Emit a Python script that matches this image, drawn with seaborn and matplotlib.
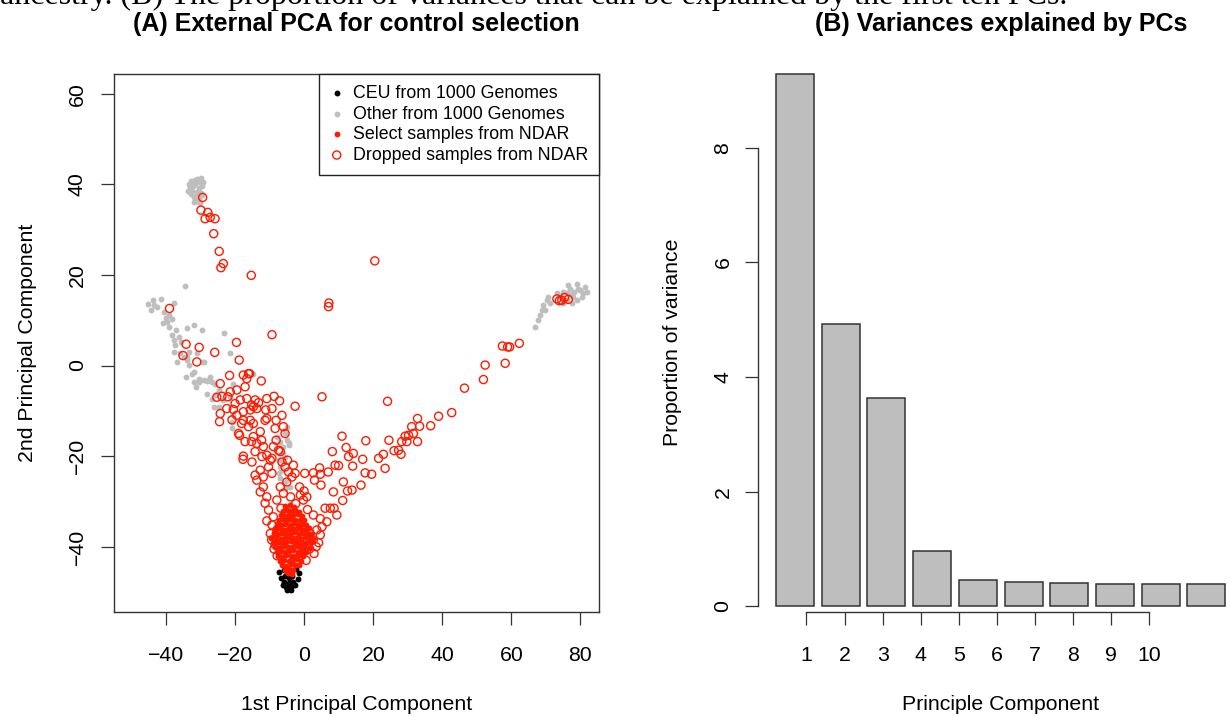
import matplotlib
matplotlib.use("Agg")
import matplotlib.pyplot as plt
import pandas as pd
import seaborn as sns

# ---- panel A: PCA scatter ----
# CEU from 1000 Genomes
ceu_pts = [(-4.5, -49.2), (-5.2, -48.8), (-3.8, -48.8), (-4.5, -48.0), (-5.8, -47.8),
           (-3.2, -47.8), (-6.8, -47.0), (-2.0, -47.2), (-4.5, -46.8), (-5.5, -46.5),
           (-3.5, -46.5), (-7.3, -45.5), (-1.5, -45.8), (-6.0, -45.2), (-2.5, -45.0),
           (-4.5, -45.5), (-5.0, -49.5), (-4.0, -49.6), (-6.3, -48.4), (-2.7, -48.5)]

# Other from 1000 Genomes
other_pts = [
    # top-left blob
    (-31.0, 41.2), (-30.2, 40.6), (-31.6, 40.1), (-32.3, 39.6), (-30.6, 39.1), (-31.2, 38.4),
    (-32.6, 38.6), (-33.2, 39.3), (-30.0, 38.0), (-31.0, 37.5), (-32.1, 37.1), (-30.6, 36.7),
    (-29.6, 37.6), (-31.8, 40.9), (-30.0, 41.4), (-33.5, 40.1), (-32.8, 37.8), (-29.8, 39.6),
    (-31.3, 36.3), (-30.3, 35.9), (-32.0, 36.2), (-33.8, 38.5), (-29.4, 40.5), (-32.9, 40.8),
    # left arm
    (-34.6, 17.5), (-44.0, 14.4), (-41.6, 14.6), (-37.8, 13.7), (-44.5, 12.2), (-42.6, 12.9),
    (-40.7, 11.9), (-39.2, 11.1), (-43.6, 13.3), (-45.2, 13.6), (-41.1, 9.3), (-39.2, 8.5),
    (-37.3, 7.8), (-38.3, 6.7), (-36.3, 6.3), (-35.8, 5.2), (-37.8, 5.6), (-39.7, 9.6),
    (-40.2, 10.5), (-38.5, 10.2), (-33.9, 8.2), (-32.0, 8.9), (-29.6, 7.8), (-23.3, 7.2),
    (-37.8, 3.0), (-36.8, 0.8), (-34.9, 1.9), (-33.9, 1.2), (-33.4, 3.0), (-29.1, 0.8),
    (-21.5, 2.8), (-37.5, 4.5), (-36.0, 2.7), (-34.1, 1.9), (-31.2, 2.7), (-29.7, 0.8),
    (-33.6, 0.1), (-32.1, -1.4), (-30.7, -3.6), (-29.2, -3.2), (-27.8, -3.2), (-34.4, -2.5),
    (-32.0, -3.6), (-30.5, -2.9), (-28.1, -3.4), (-26.7, -3.6), (-31.5, -4.7), (-32.5, -1.8),
    (-25.7, -6.5), (-26.2, -9.1), (-27.3, -2.5), (-25.9, -4.0), (-24.9, -5.4), (-28.3, -6.2),
    (-26.8, -7.3), (-23.5, -7.6), (-21.5, -6.9), (-21.0, -13.9), (-20.6, -11.0), (-24.9, -9.1),
    (-14.8, -1.8), (-20.6, -4.0), (-21.0, -12.4),
    # central band
    (-5.1, -13.5), (-5.6, -15.0), (-5.1, -16.5), (-6.1, -17.9), (-6.5, -19.4), (-6.5, -20.9),
    (-7.0, -22.4), (-7.5, -23.8), (-7.0, -24.9), (-4.6, -17.2), (-5.6, -20.1), (-6.6, -23.1),
    (-5.1, -25.3), (-7.0, -16.8), (-4.6, -17.6), (-7.5, -20.9), (-6.1, -19.4), (-6.0, -26.0),
    (-5.5, -27.2), (-8.0, -15.7), (-4.1, -26.8),
    # right blob
    (79.0, 18.0), (80.9, 15.9), (77.0, 17.0), (75.1, 16.3), (79.9, 16.6), (78.0, 15.2),
    (76.0, 14.4), (75.1, 13.7), (81.8, 16.3), (74.1, 15.2), (79.0, 14.4), (80.4, 15.2),
    (77.5, 13.7), (70.3, 14.4), (69.3, 13.3), (68.8, 12.2), (68.3, 11.1), (67.8, 10.0),
    (66.9, 8.6), (69.8, 12.2), (71.2, 13.7), (70.7, 15.2), (73.2, 15.9), (81.4, 17.4),
    (79.4, 17.0), (76.5, 17.8), (78.2, 16.2), (77.2, 15.6), (76.2, 16.0)]

# Select samples from NDAR (the solid red blob)
select_pts = [
    (-5.5, -31.0), (-4.3, -30.8), (-3.0, -31.2),
    (-6.3, -32.1), (-5.0, -31.9), (-3.8, -32.2), (-2.6, -31.8), (-1.6, -32.3),
    (-6.9, -33.0), (-5.6, -33.2), (-4.4, -32.9), (-3.2, -33.1), (-2.0, -32.8), (-0.8, -33.2),
    (-7.4, -34.1), (-6.2, -33.9), (-5.0, -34.2), (-3.8, -33.8), (-2.6, -34.1), (-1.4, -34.0),
    (-0.2, -34.2),
    (-7.9, -35.0), (-6.7, -35.2), (-5.5, -34.9), (-4.3, -35.1), (-3.1, -34.8), (-1.9, -35.2),
    (-0.7, -35.0), (0.5, -35.1),
    (-8.3, -36.1), (-7.1, -35.9), (-5.9, -36.2), (-4.7, -36.0), (-3.5, -35.8), (-2.3, -36.1),
    (-1.1, -36.0), (0.1, -36.2), (1.2, -35.9),
    (-8.8, -37.0), (-7.6, -37.2), (-6.4, -36.9), (-5.2, -37.1), (-4.0, -37.0), (-2.8, -36.8),
    (-1.6, -37.2), (-0.4, -37.0), (0.8, -36.9), (1.9, -37.1),
    (-9.6, -38.1), (-8.1, -37.9), (-6.9, -38.2), (-5.7, -38.0), (-4.5, -37.8), (-3.3, -38.1),
    (-2.1, -38.0), (-0.9, -38.2), (0.3, -37.9), (1.5, -38.0), (2.5, -38.2),
    (-8.8, -39.1), (-7.6, -38.9), (-6.4, -39.2), (-5.2, -39.0), (-4.0, -38.8), (-2.8, -39.1),
    (-1.6, -39.0), (-0.4, -39.2), (0.8, -38.9), (1.9, -39.0),
    (-8.4, -40.0), (-7.2, -40.2), (-6.0, -39.9), (-4.8, -40.1), (-3.6, -40.0), (-2.4, -39.8),
    (-1.2, -40.1), (0.0, -40.0), (1.2, -40.2),
    (-8.0, -41.1), (-6.8, -40.9), (-5.6, -41.2), (-4.4, -41.0), (-3.2, -40.8), (-2.0, -41.1),
    (-0.8, -41.0), (0.4, -41.2),
    (-7.6, -42.0), (-6.4, -42.2), (-5.2, -41.9), (-4.0, -42.1), (-2.8, -42.0), (-1.6, -41.8),
    (-0.4, -42.1),
    (-7.0, -43.1), (-5.8, -42.9), (-4.6, -43.2), (-3.4, -43.0), (-2.2, -42.8), (-1.0, -43.1),
    (-6.4, -44.0), (-5.2, -44.2), (-4.0, -43.9), (-2.8, -44.1), (-1.6, -44.0),
    (-5.6, -45.1), (-4.4, -44.9), (-3.2, -45.2),
    (-4.8, -45.9), (-3.6, -46.1)]

# Dropped samples from NDAR (open circles)
dropped_pts = [
    # upper-left arm and isolated ones
    (-29.5, 37.1), (-30.0, 34.3), (-28.0, 33.8), (-28.8, 32.4), (-27.3, 32.7), (-25.9, 32.4),
    (-26.3, 29.1), (-24.7, 25.2), (-23.5, 22.5), (-24.2, 21.6), (-15.4, 19.9),
    (20.4, 23.1), (7.1, 13.8), (7.0, 13.0), (-39.1, 12.6), (-9.4, 6.8),
    # right blob and right arm
    (73.2, 14.7), (74.6, 14.4), (75.4, 15.0), (76.5, 14.6), (73.9, 14.3),
    (57.4, 4.3), (59.5, 4.1), (58.9, 4.1), (62.3, 4.9), (58.2, 0.5), (52.4, 0.1),
    (51.9, -3.1), (46.4, -5.0), (42.7, -10.4), (38.9, -11.2), (36.6, -13.3),
    # left side of the V
    (-34.3, 4.7), (-30.5, 4.0), (-26.0, 2.9), (-19.7, 5.1), (-35.2, 2.2), (-31.2, 0.8),
    (-18.9, 1.2), (-21.7, -2.2), (-24.4, -4.0), (-17.7, -2.1), (-16.7, -2.9), (-16.2, -1.8),
    (-12.5, -3.4), (-17.2, -4.7), (-15.9, -1.8),
    (-25.4, -7.0), (-23.9, -6.8), (-21.5, -5.8), (-19.6, -5.4), (-22.2, -6.9), (-18.6, -7.6),
    (-16.7, -7.3), (-14.3, -7.6), (-14.8, -9.1), (-10.9, -7.3), (-8.8, -6.8), (-7.2, -7.8),
    (-2.7, -9.0), (5.1, -6.9), (-20.1, -8.4), (-13.3, -8.2), (-15.3, -8.7),
    (-22.5, -9.5), (-24.4, -10.6), (-24.6, -12.4), (-20.6, -9.7), (-19.6, -11.0), (-17.7, -10.2),
    (-15.7, -9.8), (-13.8, -9.5), (-11.2, -9.8), (-9.4, -9.5), (-10.9, -11.7), (-8.2, -12.1),
    (-6.5, -11.0), (-21.0, -12.0), (-17.7, -12.1), (-16.2, -13.5), (-14.8, -12.8), (-12.8, -14.6),
    (-8.5, -13.9), (-6.1, -13.5), (-18.8, -15.4), (-17.2, -16.8), (-14.8, -15.7), (-13.8, -17.2),
    (-5.6, -15.0), (-8.2, -16.5), (-9.0, -17.9), (-7.0, -19.0), (-11.9, -17.9), (-10.9, -19.8),
    (-14.3, -19.0), (-17.7, -20.0), (-17.8, -20.7), (-15.2, -21.3), (-12.3, -20.1), (-9.9, -20.9),
    (-10.4, -22.4), (-12.8, -23.1), (-14.3, -24.2), (-11.9, -24.6), (-9.4, -23.8), (-6.5, -21.3),
    (-4.9, -20.9), (-5.6, -22.4), (-3.2, -22.0), (-4.6, -23.5), (-3.6, -24.6), (-11.4, -12.1),
    (-15.7, -12.1), (-18.2, -12.8), (-19.1, -15.0), (-15.3, -16.8), (-12.4, -16.5), (-9.4, -20.5),
    (-7.5, -18.7), (-2.7, -23.8),
    # right side of the V
    (0.1, -23.8), (2.6, -23.7), (4.4, -22.6), (4.6, -24.0), (2.9, -25.3), (4.8, -26.4),
    (6.9, -23.5), (8.1, -19.0), (8.9, -22.0), (9.9, -22.1), (10.9, -15.6), (11.3, -25.7),
    (12.1, -18.1), (12.8, -20.1), (14.2, -19.4), (14.0, -22.2), (16.9, -20.7), (17.8, -16.6),
    (17.6, -23.7), (19.5, -24.0), (16.4, -26.4), (12.5, -27.7), (13.8, -27.5), (8.4, -27.9),
    (11.1, -29.8), (21.5, -20.5), (22.9, -19.6), (23.4, -22.7), (24.1, -7.9), (24.5, -16.5),
    (26.0, -18.8), (27.3, -18.7), (28.0, -19.6), (28.2, -16.8), (29.2, -15.6), (30.2, -15.4),
    (29.7, -16.8), (31.1, -13.5), (31.6, -15.0), (32.8, -11.7), (33.4, -13.4), (32.8, -16.8),
    (8.6, -31.5), (9.4, -33.0),
    # around the blob
    (-13.8, -25.3), (-11.9, -26.8), (-12.8, -27.9), (-10.9, -29.0), (-11.4, -30.4), (-10.4, -31.9),
    (-10.9, -34.3), (-9.0, -33.4), (-9.4, -35.2), (-8.0, -36.3), (-7.0, -26.8), (-6.1, -28.2),
    (-8.0, -29.7), (-5.1, -25.7), (-9.9, -37.1),
    (-1.4, -26.8), (-0.1, -27.7), (-1.2, -28.6), (0.7, -29.0), (-0.3, -29.7), (0.9, -31.8),
    (2.6, -33.0), (4.6, -33.8), (6.0, -31.5), (7.5, -31.5), (6.5, -34.5), (5.1, -35.6),
    (3.6, -36.3), (4.6, -37.4), (4.1, -39.1), (2.6, -38.5), (1.7, -37.1), (-2.5, -30.5),
    (-6.8, -31.5), (-4.0, -29.0), (-9.5, -38.5), (-8.8, -40.5), (-7.9, -42.0), (1.5, -40.5),
    (2.8, -41.5), (0.5, -43.0), (-8.5, -39.5), (3.4, -40.0)]

pca_xticks = [-40, -20, 0, 20, 40, 60, 80]
pca_yticks = [-40, -20, 0, 20, 40, 60]

# ---- panel B: variance explained ----
pc_labels = ["1", "2", "3", "4", "5", "6", "7", "8", "9", "10"]
pc_variance = [9.29, 4.93, 3.63, 0.97, 0.45, 0.42, 0.40, 0.39, 0.39, 0.38]
var_yticks = [0, 2, 4, 6, 8]

caption = "ancestry. (B) The proportion of variances that can be explained by the first ten PCs."


def to_df(pts):
    return pd.DataFrame(pts, columns=["pc1", "pc2"])


sns.set_style("ticks")
plt.rcParams['font.family'] = ['Liberation Sans', 'DejaVu Sans']
plt.rcParams['axes.edgecolor'] = '#333333'
plt.rcParams['axes.linewidth'] = 1.0
plt.rcParams['text.color'] = 'black'
plt.rcParams['axes.labelcolor'] = 'black'
plt.rcParams['axes.titlecolor'] = 'black'

W, H = 1231, 717
fig = plt.figure(figsize=(W / 100, H / 100), dpi=100)
ax1 = fig.add_axes([114 / W, (H - 611.5) / H, 485 / W, 537.5 / H])
ax2 = fig.add_axes([758.3 / W, (H - 611.5) / H, 485 / W, 537.5 / H])

# Panel A
sns.scatterplot(data=to_df(other_pts), x="pc1", y="pc2", ax=ax1, color="#BEBEBE",
                s=18, linewidth=0, label="Other from 1000 Genomes")
sns.scatterplot(data=to_df(ceu_pts), x="pc1", y="pc2", ax=ax1, color="black",
                s=18, linewidth=0, label="CEU from 1000 Genomes")
sns.scatterplot(data=to_df(dropped_pts), x="pc1", y="pc2", ax=ax1, marker="o",
                facecolors="none", edgecolors="#FF1A00", s=34, linewidth=1.0,
                label="Dropped samples from NDAR")
sns.scatterplot(data=to_df(select_pts), x="pc1", y="pc2", ax=ax1, color="#FF1A00",
                s=18, linewidth=0, label="Select samples from NDAR")

ax1.set_xlim(-55.2, 85.4)
ax1.set_ylim(-54.3, 64.35)
ax1.set_xticks(pca_xticks)
ax1.set_yticks(pca_yticks)
ax1.set_xlabel("1st Principal Component", fontsize=15.3)
ax1.set_ylabel("2nd Principal Component", fontsize=15.3)
ax1.set_title("(A) External PCA for control selection", fontsize=18,
              fontweight="bold", pad=31)

handles, labels = ax1.get_legend_handles_labels()
order = ["CEU from 1000 Genomes", "Other from 1000 Genomes",
         "Select samples from NDAR", "Dropped samples from NDAR"]
hmap = dict(zip(labels, handles))
leg = ax1.legend([hmap[k] for k in order], order, loc="upper right",
                 borderaxespad=0, fancybox=False, framealpha=1, edgecolor="#222222",
                 fontsize=12.8, handlelength=0.7, handletextpad=0.55,
                 labelspacing=0.2, borderpad=0.62)
leg.get_frame().set_linewidth(1.0)

# Panel B
sns.barplot(x=pc_labels, y=pc_variance, order=pc_labels, ax=ax2, color="#BEBEBE",
            saturation=1, edgecolor="#333333", linewidth=1.1, width=1 / 1.2,
            errorbar=None)
for p in ax2.patches:
    p.set_clip_on(False)

# R barplot layout: bar k sits at 0.7 + 1.2*(k-1); axis ticks at 1..10
tick_pos = [(int(k) - 0.7) / 1.2 for k in pc_labels]
ax2.set_xlim((-0.265 - 0.7) / 1.2, (12.47 - 0.7) / 1.2)
ax2.set_ylim(-0.093, 9.29)
ax2.set_xticks(tick_pos)
ax2.set_xticklabels(pc_labels)
ax2.set_yticks(var_yticks)
ax2.set_xlabel("Principle Component", fontsize=15.3)
ax2.set_ylabel("Proportion of variance", fontsize=15.3)
ax2.set_title("(B) Variances explained by PCs", fontsize=18, fontweight="bold", pad=31)
ax2.spines["top"].set_visible(False)
ax2.spines["right"].set_visible(False)
ax2.spines["left"].set_bounds(0, 8)
ax2.spines["bottom"].set_bounds(tick_pos[0], tick_pos[-1])

for ax, ypad in [(ax1, 10), (ax2, 9)]:
    ax.tick_params(axis="both", direction="out", length=9.6, width=0.9,
                   color="#333333", labelsize=15.3, labelcolor="black")
    ax.tick_params(axis="x", pad=15)
    ax.tick_params(axis="y", pad=ypad, labelrotation=90)
    for lab in ax.get_yticklabels():
        lab.set_va("center")
    ax.xaxis.set_label_coords(0.5, -0.155)
    ax.yaxis.set_label_coords(-0.158, 0.5)
    ax.grid(False)

# caption line of the page the figure was cut from (only its lower edge shows)
fig.text(0.0, 1 - 4 / H, caption, family="Liberation Serif", fontsize=23,
         va="baseline", ha="left")

fig.savefig("out.png", dpi=100)
